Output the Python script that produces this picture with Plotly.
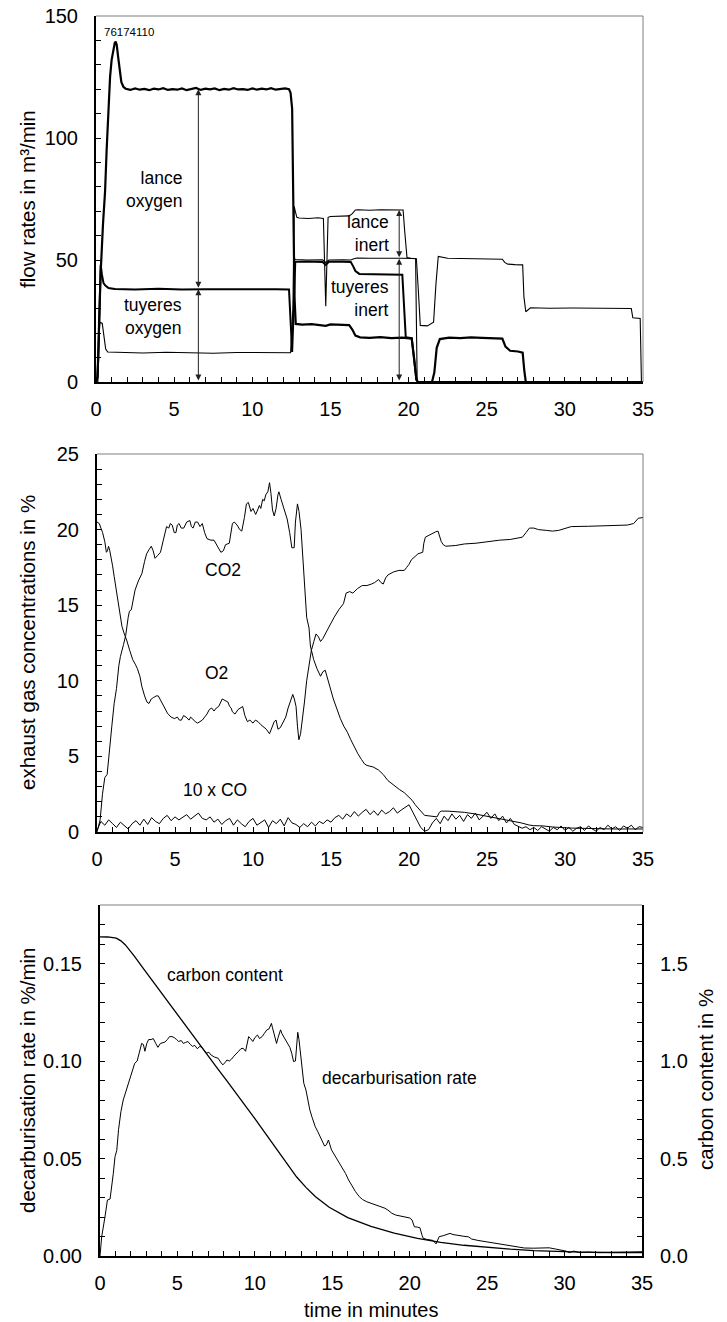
import plotly.graph_objects as go

W, H = 727, 1322

# ---------------- top panel: flow rates (m3/min) ----------------
top_t1 = [0, 0.1, 0.2, 0.3, 0.45, 0.58, 0.68, 0.8, 0.9, 1.0,
          1.12, 1.2, 1.26, 1.33, 1.42, 1.52, 1.62, 1.75, 1.9,
          2.2, 2.5, 2.8, 3.1, 3.4, 3.7, 4.0, 4.3, 4.6, 4.9,
          5.2, 5.5, 5.8, 6.1, 6.4, 6.7, 7.0, 7.3, 7.6, 7.9,
          8.2, 8.5, 8.8, 9.1, 9.4, 9.7, 10.0, 10.3, 10.6, 10.9,
          11.2, 11.5, 11.8, 12.1, 12.35, 12.45, 12.55, 12.62, 12.7, 12.78,
          13.2, 13.8, 14.4, 14.7, 15.0, 15.6, 16.2, 16.4, 16.6, 16.9,
          17.5, 18.2, 18.9, 19.6, 20.2, 20.35, 20.5, 20.6, 21.5, 21.65,
          21.8, 22.0, 22.6, 23.3, 24.0, 24.7, 25.4, 26.0, 26.2, 26.5,
          27.0, 27.3, 27.4, 27.5, 35]
top_v1 = [0, 2, 25, 45, 65, 78, 95, 115, 125, 132,
          137, 139, 139.5, 138, 133, 127, 123, 121, 120.2,
          119.7, 120.3, 119.8, 120.1, 119.6, 120.2, 119.9, 120.4, 119.7, 120.0,
          119.8, 120.3, 119.6, 120.1, 120.5, 119.7, 120.2, 119.9, 120.3, 119.6,
          120.1, 119.8, 120.4, 119.9, 120.0, 119.7, 120.3, 119.8, 120.2, 119.9,
          120.4, 119.8, 120.1, 120.3, 120.0, 118.5, 112, 80, 35, 23.8,
          23.5, 23.7, 23.3, 23.0, 23.6, 23.4, 23.3, 21.5, 19.0, 18.3,
          18.1, 18.4, 18.0, 18.2, 17.8, 10, 1, 0, 0, 4,
          14, 17.6, 18.2, 18.0, 18.3, 18.1, 17.9, 17.8, 14.5, 12.8,
          12.5, 12.0, 5, 0, 0]

top_t2 = [0, 0.12, 0.18, 0.25, 0.4, 0.5, 0.62, 0.75, 1.5, 3,
          4.5, 6, 7.5, 9, 10.5, 12.0, 12.45, 12.6, 12.68, 12.75,
          12.85, 13.0, 13.6, 14.2, 14.55, 14.7, 14.85, 15.0, 15.6, 16.2,
          16.4, 16.6, 16.8, 17.5, 18.2, 18.9, 19.65, 19.75, 19.9, 20.2,
          20.5, 20.62, 20.75, 21.2, 21.6, 21.75, 21.9, 22.5, 23.5, 24.5,
          25.5, 26.0, 26.15, 26.35, 26.8, 27.3, 27.38, 27.5, 27.8, 29,
          30.5, 32, 33.5, 34.25, 34.35, 34.6, 34.82, 34.9, 35]
top_v2 = [0, 0, 18, 24.5, 24, 19, 13.5, 12.3, 12.1, 11.9,
          12.2, 12.0, 11.8, 12.1, 12.0, 12.2, 12.0, 30, 72, 70,
          67.5, 67.2, 67.0, 67.3, 67.0, 31, 67.5, 67.8, 68.0, 68.1,
          69.0, 70.5, 70.6, 70.4, 70.6, 70.5, 70.5, 62, 51, 50.6,
          50.5, 38, 23.2, 23.0, 24.5, 40, 51.5, 50.7, 50.5, 50.6,
          50.4, 50.3, 49.0, 48.3, 48.1, 48.0, 35, 28.8, 30.4, 30.2,
          30.3, 30.2, 30.2, 30.1, 26.3, 26.1, 26.0, 0, 0]

top_t3 = [0, 0.08, 0.15, 0.22, 0.3, 0.38, 0.48, 0.6, 0.8, 1.2,
          2.5, 4, 5.5, 7, 8.5, 10, 11.5, 12.35, 12.45, 12.55,
          12.65, 12.75, 13.5, 14.5, 14.7, 14.9, 15.8, 16.3, 16.45, 16.6,
          16.85, 17.5, 18.5, 19.6, 19.72, 19.82, 20.2, 20.35, 20.5, 20.6,
          35]
top_v3 = [0, 2, 10, 35, 48, 44, 40.5, 39.5, 38.5, 38.1,
          37.9, 38.2, 37.9, 38.0, 38.1, 37.9, 38.0, 37.9, 25, 12.3,
          30, 49.3, 49.4, 49.2, 48.0, 49.3, 49.3, 49.2, 47.5, 45.5,
          44.3, 44.2, 44.0, 44.0, 30, 18.3, 18.0, 10, 1, 0,
          0]

top_t4 = [12.72, 12.8, 13.5, 14.5, 14.7, 14.9, 15.8, 16.3,
          16.5, 16.7, 17.5, 18.5, 19.5, 20.45, 20.55, 35]
top_v4 = [50.4, 50.2, 50.0, 50.1, 49.0, 50.0, 50.1, 50.0,
          50.5, 50.8, 50.7, 50.8, 50.7, 50.6, 0, 0]

# ---------------- middle panel: exhaust gas (%) ----------------
co2_t = [0, 0.2, 0.35, 0.5, 0.65, 0.8, 0.95, 1.1, 1.25, 1.4, 1.5, 1.7, 1.84, 2.0, 2.08, 2.2,
         2.29, 2.44, 2.65, 2.88, 3.05, 3.18, 3.35, 3.48, 3.6, 3.72, 3.9, 4.07, 4.25, 4.46,
         4.6, 4.7, 4.82, 4.95, 5.06, 5.15, 5.26, 5.4, 5.56, 5.75, 5.95, 6.05, 6.16, 6.3,
         6.45, 6.6, 6.75, 6.9, 7.05, 7.3, 7.5, 7.7, 7.94, 8.1, 8.24, 8.48, 8.6, 8.68, 8.8,
         8.98, 9.15, 9.28, 9.45, 9.58, 9.7, 9.87, 10.0, 10.17, 10.3, 10.41, 10.5, 10.62,
         10.72, 10.82, 10.95, 11.06, 11.15, 11.25, 11.36, 11.48, 11.6, 11.66, 11.8, 11.96,
         12.08, 12.19, 12.35, 12.49, 12.64, 12.72, 12.85, 12.95, 13.08, 13.18, 13.29, 13.44,
         13.59, 13.68, 13.89, 14.1, 14.33, 14.48, 14.63, 14.8, 14.93, 15.15, 15.38, 15.6,
         15.82, 16.05, 16.27, 16.5, 16.71, 16.95, 17.15, 17.31, 17.7, 18.05, 18.35, 18.65,
         19.0, 19.4, 19.7, 20.0, 20.2, 20.4, 20.55, 20.7, 21.0, 21.4, 21.8, 21.95, 22.07,
         22.5, 23.0, 23.55, 24.2, 25.0, 25.8, 26.5, 27.2, 27.7, 28.0, 28.6, 29.2, 30.4,
         31.5, 33, 35]
co2_v = [0, 0.8, 2.5, 3.6, 3.8, 5.2, 7.0, 8.5, 9.5, 11.0, 11.6, 12.4, 13.0, 14.2, 14.6, 14.7,
         15.3, 16.0, 16.6, 17.1, 17.9, 18.4, 18.7, 18.9, 18.6, 18.1, 18.3, 18.5, 19.3, 20.2,
         20.1, 20.4, 20.3, 19.8, 19.8, 20.3, 20.4, 20.1, 20.1, 20.5, 20.6, 20.2, 20.1, 20.5,
         20.5, 20.2, 20.4, 19.8, 19.4, 19.3, 19.3, 18.9, 18.5, 18.6, 19.0, 19.1, 19.8, 20.4, 20.5,
         20.3, 20.0, 19.9, 20.8, 21.7, 21.8, 21.2, 21.4, 21.0, 21.3, 21.6, 21.4, 22.0,
         21.9, 22.3, 22.5, 23.1, 22.4, 21.3, 20.9, 21.4, 22.3, 22.5, 22.0, 21.5,
         21.0, 20.7, 19.8, 18.8, 18.8, 20.5, 21.7, 21.2, 20.0, 18.5, 16.9, 14.2,
         13.5, 12.3, 11.4, 10.8, 10.3, 10.6, 10.7, 10.0, 9.6, 8.8, 8.1, 7.5,
         7.0, 6.6, 6.1, 5.6, 5.2, 4.8, 4.5, 4.4, 4.3, 4.1, 3.8, 3.4,
         3.1, 2.8, 2.6, 2.3, 2.1, 1.8, 1.6, 1.45, 1.1, 1.05, 1.0, 1.3, 1.38,
         1.38, 1.35, 1.3, 1.2, 1.05, 0.9, 0.75, 0.6, 0.46, 0.42, 0.4, 0.33, 0.26,
         0.22, 0.2, 0.2]

o2_t = [0, 0.15, 0.25, 0.36, 0.5, 0.6, 0.67, 0.74, 0.82, 0.9, 1.0, 1.1, 1.25, 1.4, 1.5, 1.6,
        1.75, 1.9, 2.1, 2.29, 2.45, 2.59, 2.75, 2.88, 3.05, 3.2, 3.33, 3.48, 3.63, 3.8, 3.93,
        4.08, 4.22, 4.38, 4.52, 4.75, 4.97, 5.15, 5.28, 5.41, 5.55, 5.71, 5.9, 6.0, 6.16, 6.3,
        6.45, 6.6, 6.75, 6.9, 7.05, 7.2, 7.35, 7.5, 7.65, 7.8, 7.92, 8.03, 8.2, 8.39, 8.5,
        8.6, 8.68, 8.85, 9.04, 9.2, 9.34, 9.48, 9.64, 9.8, 10.0, 10.15, 10.32, 10.5, 10.62,
        10.85, 11.06, 11.2, 11.36, 11.48, 11.6, 11.75, 11.96, 12.1, 12.25, 12.4, 12.55, 12.65,
        12.76, 12.85, 12.94, 13.05, 13.14, 13.3, 13.44, 13.6, 13.74, 13.9, 14.04, 14.2, 14.33,
        14.48, 14.63, 14.9, 15.2, 15.5, 15.8, 15.97, 16.2, 16.4, 16.7, 17.0, 17.3, 17.6, 17.8,
        18.05, 18.2, 18.35, 18.5, 18.65, 19.0, 19.35, 19.7, 19.85, 20.0, 20.15, 20.34, 20.58,
        20.88, 20.95, 21.05, 21.3, 21.47, 21.7, 21.86, 21.97, 22.07, 22.2, 22.36, 23.0, 23.55,
        24.3, 25.0, 25.8, 26.5, 27.0, 27.27, 27.5, 27.72, 28.0, 28.3, 28.8, 29.2, 29.6, 29.8,
        30.1, 30.4, 31.5, 32.5, 33.4, 34.0, 34.4, 34.6, 34.7, 35]
o2_v = [20.5, 20.4, 20.1, 19.8, 19.2, 18.5, 18.6, 18.9, 18.6, 18.2, 17.6, 16.9, 15.9, 15.1, 14.3, 13.6,
        13.1, 12.7, 12.0, 11.4, 11.1, 10.8, 10.3, 9.6, 9.0, 8.6, 8.5, 8.8, 8.9, 9.0, 9.0,
        8.7, 8.4, 8.1, 7.85, 7.6, 7.5, 7.6, 7.4, 7.4, 7.7, 7.6, 7.4, 7.6, 7.4, 7.3,
        7.2, 7.3, 7.4, 7.6, 7.8, 8.1, 8.2, 8.0, 8.2, 8.3, 8.6, 8.8, 8.7, 8.6, 8.3,
        8.2, 7.95, 7.8, 8.1, 8.2, 8.3, 7.7, 7.3, 7.4, 7.2, 7.4, 7.3, 7.1, 7.0,
        6.8, 6.5, 6.9, 7.3, 7.4, 6.8, 6.9, 7.3, 7.6, 8.2, 8.6, 9.1, 8.8,
        8.3, 7.0, 6.1, 6.5, 7.2, 8.6, 10.0, 11.0, 12.0, 12.6, 13.1, 12.9, 12.6,
        12.8, 13.1, 13.7, 14.2, 14.7, 15.1, 15.8, 15.9, 15.8, 16.1, 16.3, 16.3, 16.4, 16.5,
        16.7, 16.5, 16.4, 16.8, 17.0, 17.2, 17.3, 17.3, 17.5, 17.7, 18.0, 18.2, 18.4,
        18.5, 19.1, 19.5, 19.65, 19.75, 19.85, 19.9, 19.6, 19.2, 19.0, 18.9, 18.95, 19.05,
        19.1, 19.2, 19.3, 19.35, 19.45, 19.5, 19.8, 20.1, 20.1, 20.0, 19.95, 19.9, 19.95, 20.0,
        20.1, 20.2, 20.22, 20.25, 20.25, 20.3, 20.4, 20.6, 20.75, 20.8]

co10_t = [0, 0.25, 0.5, 0.75, 1, 1.25, 1.5, 1.75, 2, 2.25, 2.5, 2.75, 3, 3.25, 3.5, 3.75, 4, 4.25, 4.5, 4.75,
          5, 5.25, 5.5, 5.75, 6, 6.25, 6.5, 6.75, 7, 7.25, 7.5, 7.75, 8, 8.25, 8.5, 8.75, 9, 9.25, 9.5, 9.75,
          10, 10.25, 10.5, 10.75, 11, 11.25, 11.5, 11.75, 12, 12.25, 12.5, 12.75, 13, 13.25, 13.5, 13.75,
          14, 14.25, 14.5, 14.75,
          15, 15.25, 15.5, 15.75, 16, 16.25, 16.5, 16.75, 17, 17.25, 17.5, 17.75, 18, 18.25, 18.5, 18.75,
          19, 19.25, 19.5, 19.75,
          20, 20.25, 20.5, 20.75, 21, 21.25, 21.5, 21.75, 22, 22.25, 22.5, 22.75, 23, 23.25, 23.5, 23.75,
          24, 24.25, 24.5, 24.75,
          25, 25.25, 25.5, 25.75, 26, 26.25, 26.5, 26.75, 27, 27.25, 27.5, 27.75, 28, 28.25, 28.5, 28.75,
          29, 29.25, 29.5, 29.75,
          30, 30.25, 30.5, 30.75, 31, 31.25, 31.5, 31.75, 32, 32.25, 32.5, 32.75, 33, 33.25, 33.5, 33.75,
          34, 34.25, 34.5, 34.75, 35]
co10_v = [0.1, 0.7, 0.45, 0.8, 0.55, 0.3, 0.65, 0.4, 0.2, 0.55, 0.75, 0.45, 0.85, 0.5, 0.95, 0.7, 0.55, 0.9, 1.1, 0.75,
          1.0, 0.8, 0.95, 1.15, 0.85, 1.05, 1.25, 0.9, 0.8, 1.0, 0.65, 0.85, 0.5, 0.75, 0.9, 0.45, 0.8, 0.55, 0.35, 0.7,
          0.9, 0.45, 0.6, 0.8, 0.3, 0.75, 0.55, 0.85, 0.4, 0.95, 0.6, 0.5, 0.3, 0.55, 0.35, 0.65, 0.4, 0.7, 0.55, 0.8,
          0.65, 0.95, 1.1, 0.85, 1.2, 1.0, 1.35, 1.05, 1.3, 1.5, 1.15, 1.4, 1.1, 1.45, 1.2, 1.35, 1.6, 1.25, 1.45, 1.65,
          1.8, 1.3, 0.8, 0.3, 0.05, 0.15, 0.6, 0.9, 0.55, 1.05, 0.75, 1.2, 0.85, 1.1, 0.7, 1.15, 0.9, 1.25, 0.8, 1.05,
          1.3, 0.9, 1.2, 0.75, 1.05, 0.6, 0.9, 0.5, 0.4, 0.25, 0.35, 0.15, 0.3, 0.1, 0.35, 0.2, 0.05, 0.3, 0.15, 0.4,
          0.1, 0.3, 0.05, 0.25, 0.35, 0.1, 0.4, 0.2, 0.05, 0.3, 0.15, 0.45, 0.2, 0.35, 0.1, 0.4, 0.25, 0.45, 0.15, 0.35,
          0.3]

# ---------------- bottom panel: decarburisation ----------------
dec_t = [0, 0.11, 0.32, 0.48, 0.65, 0.75, 0.86, 0.97, 1.08, 1.2, 1.35, 1.5, 1.65, 1.8, 2.0,
         2.24, 2.4, 2.54, 2.69, 2.8, 2.9, 3.02, 3.14, 3.3, 3.44, 3.6, 3.74, 3.9, 4.05, 4.19,
         4.35, 4.49, 4.65, 4.79, 4.95, 5.08, 5.25, 5.38, 5.52, 5.68, 5.83, 5.98, 6.12, 6.28,
         6.45, 6.58, 6.72, 6.88, 7.03, 7.18, 7.4, 7.63, 7.78, 7.93, 8.05, 8.2, 8.35, 8.5,
         8.65, 8.8, 8.95, 9.1, 9.25, 9.4, 9.5, 9.6, 9.72, 9.87, 10.0, 10.17, 10.3, 10.47,
         10.6, 10.77, 10.92, 11.07, 11.14, 11.2, 11.3, 11.4, 11.5, 11.66, 11.75, 11.87, 12.05,
         12.26, 12.38, 12.5, 12.62, 12.77, 12.85, 12.95, 13.05, 13.16, 13.3, 13.55, 13.7,
         13.9, 14.05, 14.2, 14.35, 14.5, 14.62, 14.75, 14.95, 15.2, 15.4, 15.6, 15.85, 16.05,
         16.3, 16.5, 16.75, 16.95, 17.2, 17.5, 17.8, 18.1, 18.4, 18.6, 18.85, 19.1, 19.4,
         19.6, 20.0, 20.15, 20.3, 20.5, 20.66, 20.8, 20.87, 21.1, 21.3, 21.5, 21.7, 21.85,
         21.9, 22.2, 22.5, 22.6, 22.8, 23.2, 23.5, 23.8, 24.0, 24.4, 24.8, 25.3, 25.7, 26.1,
         26.5, 26.9, 27.4, 28.0, 28.6, 29.0, 29.4, 29.9, 30.1, 30.3, 30.6, 31.0, 31.5, 32.2,
         33, 34, 35]
dec_v = [0, 0.0099, 0.020, 0.0287, 0.0292, 0.0373, 0.0424, 0.051, 0.054, 0.065, 0.074, 0.080,
         0.084, 0.087, 0.093,
         0.0988, 0.1, 0.104, 0.109, 0.1085, 0.105, 0.109, 0.111, 0.111, 0.1115, 0.109, 0.107,
         0.109, 0.1095, 0.1097,
         0.111, 0.1125, 0.1125, 0.112, 0.111, 0.110, 0.1105, 0.109, 0.1095, 0.110, 0.1085,
         0.1075, 0.108, 0.1063,
         0.1075, 0.107, 0.1055, 0.104, 0.1045, 0.103, 0.102, 0.1014, 0.0995, 0.098, 0.099,
         0.1005, 0.1, 0.101,
         0.1025, 0.104, 0.105, 0.1063, 0.1065, 0.105, 0.109, 0.1125, 0.1115, 0.11, 0.112,
         0.1133, 0.1115, 0.1125,
         0.114, 0.1159, 0.1165, 0.1193, 0.117, 0.115, 0.112, 0.109, 0.112, 0.116, 0.114,
         0.1125, 0.11,
         0.107, 0.104, 0.0997, 0.1, 0.1147, 0.111, 0.104, 0.096, 0.0886, 0.0851, 0.0749, 0.071,
         0.0663, 0.064, 0.0612, 0.059, 0.0564, 0.057, 0.0595, 0.0544, 0.051, 0.0484, 0.046,
         0.0424, 0.039,
         0.0355, 0.033, 0.0304, 0.029, 0.0279, 0.027, 0.0262, 0.0255, 0.0245, 0.0235, 0.0219,
         0.021, 0.0205,
         0.0202, 0.0195, 0.0185, 0.015, 0.0148, 0.0145, 0.0105, 0.0091, 0.0085, 0.0082, 0.0080,
         0.0062, 0.0085,
         0.0099, 0.0105, 0.0113, 0.0116, 0.011, 0.0103, 0.0101, 0.0098, 0.0087, 0.008, 0.0075,
         0.0066, 0.006, 0.0055,
         0.0052, 0.0048, 0.0041, 0.004, 0.0041, 0.0042, 0.0036, 0.0027, 0.0025, 0.0017, 0.0025,
         0.0017, 0.002, 0.0017,
         0.0019, 0.002, 0.0022]

carb_t = [0, 0.5, 1.05, 1.35, 1.64, 1.95, 2.24, 2.84, 3.44, 4.19, 4.93, 5.83, 6.73, 7.63,
          8.22, 9.12, 10.0, 10.9, 11.8, 12.7, 13.3, 13.9, 14.8, 16.0, 17.5, 19.0, 20.5, 22.0,
          23.5, 25.0, 26.5, 28.0, 29.5, 31.0, 33.0, 35]
carb_v = [1.637, 1.636, 1.63, 1.616, 1.595, 1.567, 1.535, 1.47, 1.405, 1.325, 1.245, 1.15,
          1.053, 0.957, 0.895, 0.8, 0.705, 0.605, 0.505, 0.405, 0.352, 0.305, 0.25, 0.197,
          0.152, 0.117, 0.09, 0.07, 0.055, 0.044, 0.035, 0.028, 0.023, 0.02, 0.018, 0.017]

# ---------------- figure ----------------
FONT = "Liberation Sans, Arial, Helvetica, sans-serif"
fig = go.Figure()

def line(x, y, xa, ya, w):
    fig.add_trace(go.Scatter(x=x, y=y, xaxis=xa, yaxis=ya, mode="lines",
                             line=dict(color="black", width=w), showlegend=False,
                             hoverinfo="skip"))

line(top_t4, top_v4, "x", "y", 1.1)
line(top_t2, top_v2, "x", "y", 1.1)
line(top_t3, top_v3, "x", "y", 2.0)
line(top_t1, top_v1, "x", "y", 2.2)

line(co10_t, co10_v, "x2", "y2", 1.0)
line(o2_t, o2_v, "x2", "y2", 1.0)
line(co2_t, co2_v, "x2", "y2", 1.0)

line(dec_t, dec_v, "x3", "y3", 1.0)
line(carb_t, carb_v, "x3", "y4", 1.3)

def px_x(p):
    return p / W

def px_y(p):
    return 1 - p / H

tickfont = dict(family=FONT, size=20, color="black")

def xax(dom, anchor):
    return dict(domain=dom, anchor=anchor, range=[0, 35], tick0=0, dtick=5,
                ticks="inside", ticklen=5, tickwidth=1, tickcolor="black",
                showline=True, linecolor="black", linewidth=2, mirror=False,
                showgrid=False, zeroline=False, tickfont=tickfont,
                ticklabelstandoff=8, automargin=False,
                minor=dict(dtick=1, tick0=0, ticks="inside", ticklen=5, tickwidth=1,
                           tickcolor="black", showgrid=False))

def yax(dom, anchor, rng, dtick, mdtick, fmt, side="left", overlaying=None):
    d = dict(domain=dom, anchor=anchor, range=rng, tick0=0, dtick=dtick, side=side,
             ticks="inside", ticklen=5, tickwidth=1, tickcolor="black",
             showline=True, linecolor="black", linewidth=2, mirror=False,
             showgrid=False, zeroline=False, tickfont=tickfont, tickformat=fmt,
             ticklabelstandoff=12, automargin=False,
             minor=dict(dtick=mdtick, tick0=0, ticks="inside", ticklen=5, tickwidth=1,
                        tickcolor="black", showgrid=False))
    if overlaying:
        d["overlaying"] = overlaying
    return d

xd1 = [px_x(96), px_x(643)]
xd2 = [px_x(97), px_x(643)]
xd3 = [px_x(100), px_x(642)]
yd1 = [px_y(382), px_y(16)]
yd2 = [px_y(832), px_y(454)]
yd3 = [px_y(1256), px_y(905)]

fig.update_layout(
    width=W, height=H, margin=dict(l=0, r=0, t=0, b=0),
    paper_bgcolor="white", plot_bgcolor="white",
    font=dict(family=FONT, color="black"),
    xaxis=xax(xd1, "y"), yaxis=yax(yd1, "x", [0, 150], 50, 10, "d"),
    xaxis2=xax(xd2, "y2"), yaxis2=yax(yd2, "x2", [0, 25], 5, 1, "d"),
    xaxis3=xax(xd3, "y3"), yaxis3=yax(yd3, "x3", [0, 0.18], 0.05, 0.01, ".2f"),
    yaxis4=yax(yd3, "x3", [0, 1.8], 0.5, 0.1, ".1f", side="right", overlaying="y3"),
)

# thin grey frame on top / right
shapes = []
for xr, yr, right in (("x", "y", True), ("x2", "y2", True), ("x3", "y3", False)):
    shapes.append(dict(type="line", xref=xr + " domain", yref=yr + " domain",
                       x0=0, x1=1, y0=1, y1=1, line=dict(color="#7f7f7f", width=1)))
    if right:
        shapes.append(dict(type="line", xref=xr + " domain", yref=yr + " domain",
                           x0=1, x1=1, y0=0, y1=1, line=dict(color="#7f7f7f", width=1)))
fig.update_layout(shapes=shapes)

ann = []
afont = dict(family=FONT, size=17.5, color="black")

def text(x, y, s, xr, yr, xanchor="center", align="center", font=afont):
    ann.append(dict(x=x, y=y, xref=xr, yref=yr, text=s, showarrow=False,
                    xanchor=xanchor, yanchor="middle", align=align, font=font))

def darrow(x, y0, y1, xr, yr):
    ann.append(dict(x=x, y=y1, ax=x, ay=y0, xref=xr, yref=yr, axref=xr, ayref=yr,
                    text="", showarrow=True, arrowside="end+start", arrowhead=2,
                    startarrowhead=2, arrowsize=1.2, startarrowsize=1.2, arrowwidth=1,
                    arrowcolor="#222222", standoff=0, startstandoff=0))

# top panel
darrow(6.55, 38, 120, "x", "y")
darrow(6.55, 0, 38, "x", "y")
darrow(19.4, 50.5, 70.5, "x", "y")
darrow(19.4, 0, 50.5, "x", "y")
text(5.6, 79, "lance<br>oxygen", "x", "y", xanchor="right", align="right")
text(5.6, 27, "tuyeres<br>oxygen", "x", "y", xanchor="right", align="right")
text(18.85, 60.8, "lance<br>inert", "x", "y", xanchor="right", align="right")
text(18.9, 34.3, "tuyeres<br>inert", "x", "y", xanchor="right", align="right")
text(0.36, 143.6, "76174110", "x", "y", xanchor="left", align="left",
     font=dict(family=FONT, size=11.5, color="black"))

# middle panel
text(8.1, 17.3, "CO2", "x2", "y2")
text(7.64, 10.5, "O2", "x2", "y2")
text(7.56, 2.8, "10 x CO", "x2", "y2")

# bottom panel
text(4.19, 0.144, "carbon content", "x3", "y3", xanchor="left", align="left")
text(14.2, 0.0911, "decarburisation rate", "x3", "y3", xanchor="left", align="left")

# axis titles
tfont = dict(family=FONT, size=20.5, color="black")
ann.append(dict(x=px_x(27), y=px_y(199), xref="paper", yref="paper", showarrow=False,
                text="flow rates in m³/min", textangle=-90, font=tfont,
                xanchor="center", yanchor="middle"))
ann.append(dict(x=px_x(27), y=px_y(643), xref="paper", yref="paper", showarrow=False,
                text="exhaust gas concentrations in %", textangle=-90, font=tfont,
                xanchor="center", yanchor="middle"))
ann.append(dict(x=px_x(27), y=px_y(1080), xref="paper", yref="paper", showarrow=False,
                text="decarburisation rate in %/min", textangle=-90, font=tfont,
                xanchor="center", yanchor="middle"))
ann.append(dict(x=px_x(705), y=px_y(1080), xref="paper", yref="paper", showarrow=False,
                text="carbon content in %", textangle=-90, font=tfont,
                xanchor="center", yanchor="middle"))
ann.append(dict(x=px_x(371), y=0, xref="paper", yref="paper", showarrow=False,
                text="time in minutes", font=dict(family=FONT, size=20, color="black"),
                xanchor="center", yanchor="bottom", borderpad=0))

fig.update_layout(annotations=ann)

fig.write_html("out.html")
